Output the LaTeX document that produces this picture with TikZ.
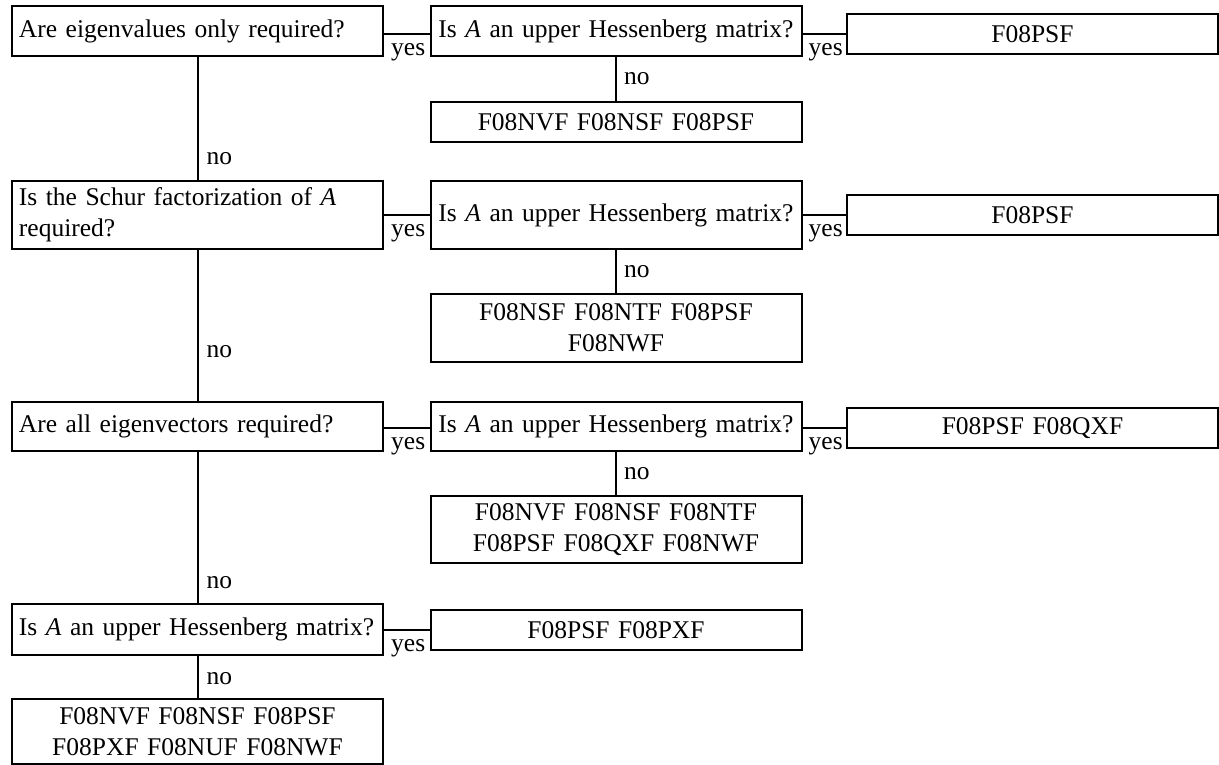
\documentclass[tikz,border=0pt]{standalone}
\usepackage{fontspec}
\setmainfont{Liberation Serif}[WordSpace=2.0]
\begin{document}
\begin{tikzpicture}[x=1pt,y=-1pt,
  txt/.style={font=\fontsize{25.5}{31}\selectfont},
  box/.style={txt, draw, line width=2pt, inner xsep=7pt, inner ysep=0pt, minimum width=371pt, text width=357pt},
  qbox/.style={box, align=left},
  rbox/.style={box, align=center},
  lbl/.style={txt, inner sep=0pt},
  conn/.style={line width=2pt}]
\useasboundingbox (0,0) rectangle (1219,765);
% row 1
\node[qbox, minimum height=50pt] (q1) at (197.5,31) {Are eigenvalues only required?};
\node[rbox, minimum height=50pt] (h1) at (616,31) {\mbox{Is \textit{A} an upper Hessenberg matrix?}};
\node[rbox, minimum height=40pt, minimum width=369pt] (y1) at (1032.5,34) {F08PSF};
\node[rbox, minimum height=40pt] (n1) at (616,122) {F08NVF F08NSF F08PSF};
% row 2
\node[qbox, minimum height=68pt] (q2) at (197.5,215) {Is the Schur factorization of \textit{A}\\required?};
\node[rbox, minimum height=68pt] (h2) at (616,215) {\mbox{Is \textit{A} an upper Hessenberg matrix?}};
\node[rbox, minimum height=40pt, minimum width=369pt] (y2) at (1032.5,215) {F08PSF};
\node[rbox, minimum height=68pt] (n2) at (616,328) {F08NSF F08NTF F08PSF\\F08NWF};
% row 3
\node[qbox, minimum height=49pt] (q3) at (197.5,426.5) {Are all eigenvectors required?};
\node[rbox, minimum height=49pt] (h3) at (616,426.5) {\mbox{Is \textit{A} an upper Hessenberg matrix?}};
\node[rbox, minimum height=40pt, minimum width=369pt] (y3) at (1032.5,428) {F08PSF F08QXF};
\node[rbox, minimum height=67pt] (n3) at (616,529.5) {F08NVF F08NSF F08NTF\\F08PSF F08QXF F08NWF};
% row 4
\node[qbox, minimum height=51pt] (q4) at (197.5,629.5) {\mbox{Is \textit{A} an upper Hessenberg matrix?}};
\node[rbox, minimum height=40pt] (y4) at (616,630) {F08PSF F08PXF};
\node[rbox, minimum height=65pt] (n4) at (197.5,731.5) {F08NVF F08NSF F08PSF\\F08PXF F08NUF F08NWF};

% yes connectors
\draw[conn] (q1.east |- y1.west) -- (h1.west |- y1.west);
\draw[conn] (h1.east |- y1.west) -- (y1.west);
\draw[conn] (q2.east) -- (h2.west);
\draw[conn] (h2.east) -- (y2.west);
\draw[conn] (q3.east |- y3.west) -- (h3.west |- y3.west);
\draw[conn] (h3.east |- y3.west) -- (y3.west);
\draw[conn] (q4.east |- y4.west) -- (y4.west);
\node[lbl, anchor=north west] (yes1) at ([shift={(7,9)}]q1.east |- y1.west) {yes};
\node[lbl, anchor=north west] (yes2) at ([shift={(6,9)}]h1.east |- y1.west) {yes};
\node[lbl, anchor=north west] (yes3) at ([shift={(7,9)}]q2.east) {yes};
\node[lbl, anchor=north west] (yes4) at ([shift={(6,9)}]h2.east) {yes};
\node[lbl, anchor=north west] (yes5) at ([shift={(7,9)}]q3.east |- y3.west) {yes};
\node[lbl, anchor=north west] (yes6) at ([shift={(6,9)}]h3.east |- y3.west) {yes};
\node[lbl, anchor=north west] (yes7) at ([shift={(7,9)}]q4.east |- y4.west) {yes};

% no connectors
\draw[conn] (q1.south) -- (q2.north);
\draw[conn] (q2.south) -- (q3.north);
\draw[conn] (q3.south) -- (q4.north);
\draw[conn] (q4.south) -- (n4.north);
\draw[conn] (h1.south) -- (n1.north);
\draw[conn] (h2.south) -- (n2.north);
\draw[conn] (h3.south) -- (n3.north);
\node[lbl, anchor=west] (no1) at ([shift={(9,-21)}]q2.north) {no};
\node[lbl, anchor=west] (no2) at ([shift={(9,-49)}]q3.north) {no};
\node[lbl, anchor=west] (no3) at ([shift={(9,-20)}]q4.north) {no};
\node[lbl, anchor=west] (no4) at ([shift={(9,-19)}]n4.north) {no};
\node[lbl, anchor=west] (no5) at ([shift={(8,-22)}]n1.north) {no};
\node[lbl, anchor=west] (no6) at ([shift={(8,-21)}]n2.north) {no};
\node[lbl, anchor=west] (no7) at ([shift={(8,-21)}]n3.north) {no};
\end{tikzpicture}
\end{document}
